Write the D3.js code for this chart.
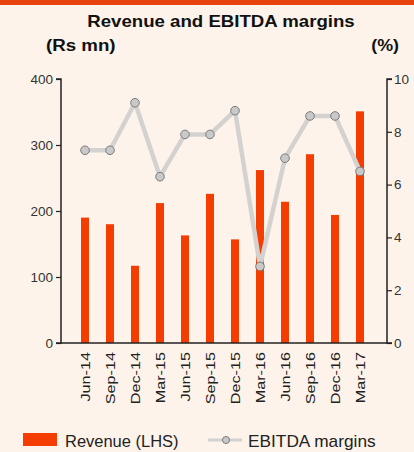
<!DOCTYPE html>
<html>
<head>
<meta charset="utf-8">
<script src="https://cdn.jsdelivr.net/npm/d3@7"></script>
<style>
  body { margin: 0; background: #fdf3ea; }
  svg { display: block; font-family: "Liberation Sans", Arial, sans-serif; }
</style>
</head>
<body>
<div id="chart"></div>
<script>
const quarters = ["Jun-14", "Sep-14", "Dec-14", "Mar-15", "Jun-15", "Sep-15", "Dec-15", "Mar-16", "Jun-16", "Sep-16", "Dec-16", "Mar-17"];
const revenue = [190, 180, 117, 212, 163, 226, 157, 262, 214, 286, 194, 351];
const ebitdaMargin = [7.3, 7.3, 9.1, 6.3, 7.9, 7.9, 8.8, 2.9, 7.0, 8.6, 8.6, 6.5];
const leftTicks = [0, 100, 200, 300, 400];
const rightTicks = [0, 2, 4, 6, 8, 10];

const width = 414, height = 452;
const margin = { top: 79, right: 27, bottom: 109, left: 61 };

const svg = d3.select("#chart")
    .append("svg")
    .attr("width", width)
    .attr("height", height);

svg.append("rect")
    .attr("width", width).attr("height", height)
    .attr("fill", "#fdf3ea");
svg.append("rect")
    .attr("width", width).attr("height", 5)
    .attr("fill", "#e8420e");

const x = d3.scaleBand()
    .domain(quarters)
    .range([margin.left + 11.5, width - margin.right - 14.5])
    .paddingInner(0.68)
    .paddingOuter(0.34);
const yL = d3.scaleLinear().domain([0, 400]).range([height - margin.bottom, margin.top]);
const yR = d3.scaleLinear().domain([0, 10]).range([height - margin.bottom, margin.top]);

// the source text is a little wider than Arial, so stretch it a bit
function stretchedText(x0, y0, sx, anchor, size, weight, label) {
    return svg.append("text")
        .attr("transform", `translate(${x0},${y0}) scale(${sx},1)`)
        .attr("text-anchor", anchor)
        .attr("font-size", size).attr("font-weight", weight).attr("fill", "#111")
        .text(label);
}
stretchedText(221, 26.5, 1.13, "middle", 16.5, "bold", "Revenue and EBITDA margins");
stretchedText(46, 51, 1.1, "start", 17, "bold", "(Rs mn)");
stretchedText(399, 51, 1.05, "end", 17, "bold", "(%)");

// bars
svg.append("g")
    .selectAll("rect")
    .data(revenue)
    .join("rect")
    .attr("x", (d, i) => x(quarters[i]))
    .attr("y", d => yL(d))
    .attr("width", x.bandwidth())
    .attr("height", d => yL(0) - yL(d))
    .attr("fill", "#f53d02");

// axes
const axisColor = "#222";
const gL = svg.append("g")
    .attr("transform", `translate(${margin.left},0)`)
    .call(d3.axisLeft(yL).tickValues(leftTicks).tickSize(5).tickPadding(3));
const gR = svg.append("g")
    .attr("transform", `translate(${width - margin.right},0)`)
    .call(d3.axisRight(yR).tickValues(rightTicks).tickSize(5).tickPadding(2));
for (const g of [gL, gR]) {
    g.select(".domain").attr("stroke", axisColor).attr("stroke-width", 1.5);
    g.selectAll(".tick line").attr("stroke", axisColor).attr("stroke-width", 1.2);
    g.selectAll(".tick text").attr("fill", "#333").attr("font-size", 13.5)
        .attr("font-family", "Liberation Sans, Arial, sans-serif");
}
gL.select(".domain").attr("d", `M-5,${yL(400)}H0V${yL(0)}H-5`);
gR.select(".domain").attr("d", `M5,${yR(10)}H0V${yR(0)}H5`);

svg.append("line")
    .attr("x1", margin.left).attr("x2", width - margin.right)
    .attr("y1", yL(0)).attr("y2", yL(0))
    .attr("stroke", axisColor).attr("stroke-width", 1.5);

const gX = svg.append("g")
    .attr("transform", `translate(0,${yL(0)})`)
    .call(d3.axisBottom(x).tickSize(0).tickPadding(0));
gX.select(".domain").remove();
gX.selectAll(".tick text")
    .attr("transform", "rotate(-90) scale(1.2,1)")
    .attr("text-anchor", "end")
    .attr("x", -7.5).attr("y", 0).attr("dy", "0.35em")
    .attr("fill", "#222").attr("font-size", 13.5)
    .attr("font-family", "Liberation Sans, Arial, sans-serif");

// EBITDA line
const cx = (d, i) => x(quarters[i]) + x.bandwidth() / 2;
svg.append("path")
    .datum(ebitdaMargin)
    .attr("d", d3.line().x(cx).y(d => yR(d)))
    .attr("fill", "none")
    .attr("stroke", "#d3d2d0")
    .attr("stroke-width", 4.5)
    .attr("stroke-linejoin", "round");
svg.append("g")
    .selectAll("circle")
    .data(ebitdaMargin)
    .join("circle")
    .attr("cx", cx)
    .attr("cy", d => yR(d))
    .attr("r", 4.3)
    .attr("fill", "#c9c9c9")
    .attr("stroke", "#7a7a7a")
    .attr("stroke-width", 1);

// legend
svg.append("rect")
    .attr("x", 23).attr("y", 433).attr("width", 34).attr("height", 13)
    .attr("fill", "#f53d02");
stretchedText(65, 446.5, 1.03, "start", 16, "normal", "Revenue (LHS)").attr("fill", "#222");
svg.append("line")
    .attr("x1", 208).attr("x2", 242).attr("y1", 440).attr("y2", 440)
    .attr("stroke", "#d3d2d0").attr("stroke-width", 3);
svg.append("circle")
    .attr("cx", 226).attr("cy", 440).attr("r", 3.5)
    .attr("fill", "#c9c9c9").attr("stroke", "#7a7a7a");
stretchedText(248, 446.5, 1.08, "start", 16, "normal", "EBITDA margins").attr("fill", "#222");
</script>
</body>
</html>
